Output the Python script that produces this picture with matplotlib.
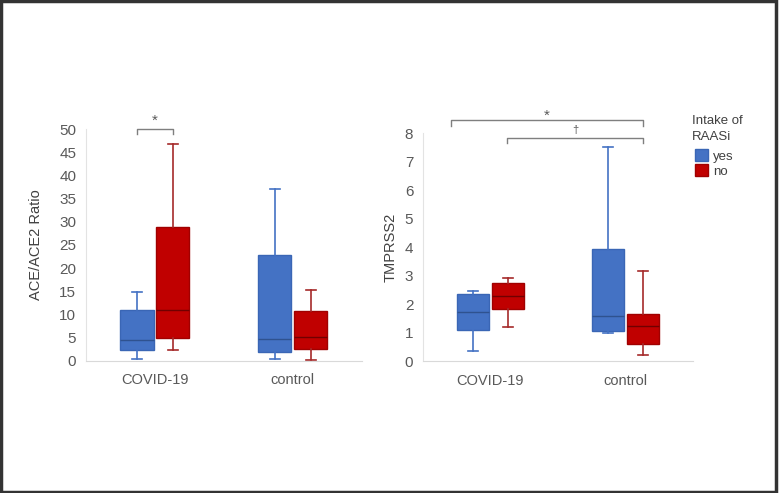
import matplotlib
matplotlib.use("Agg")
import matplotlib.pyplot as plt
from matplotlib.patches import Patch, Rectangle

plt.rcParams['font.family'] = ['Liberation Sans', 'DejaVu Sans']

groups = ['COVID-19', 'control']
intake = ['yes', 'no']

# ACE/ACE2 ratio: [min, q1, median, q3, max] per group, per intake
ace_yes = [[0.3, 2.2, 4.5, 11.0, 14.9], [0.3, 1.8, 4.6, 22.8, 37.1]]
ace_no = [[2.2, 4.8, 11.0, 28.8, 46.8], [0.1, 2.5, 5.2, 10.7, 15.3]]

# TMPRSS2
tmp_yes = [[0.36, 1.09, 1.73, 2.34, 2.46], [1.0, 1.05, 1.58, 3.92, 7.53]]
tmp_no = [[1.21, 1.83, 2.28, 2.75, 2.93], [0.21, 0.59, 1.24, 1.64, 3.17]]

blue = '#4472C4'
red = '#C00000'
tick_col = '#595959'


def stats(vals):
    lo, q1, med, q3, hi = vals
    return {'whislo': lo, 'q1': q1, 'med': med, 'q3': q3, 'whishi': hi, 'fliers': []}


def draw(ax, yes, no, ymax, step, ylabel, lpad):
    off = 0.13
    w = 0.24
    for data, sign, face, edge, med_c, wh_c in [
            (yes, -1, blue, '#3A66B5', '#2F528F', blue),
            (no, 1, red, '#A00000', '#700000', '#A52A2A')]:
        pos = [i + sign * off for i in range(len(groups))]
        ax.bxp([stats(v) for v in data], positions=pos, widths=w, patch_artist=True,
               showfliers=False,
               boxprops=dict(facecolor=face, edgecolor=edge, linewidth=1),
               medianprops=dict(color=med_c, linewidth=1),
               whiskerprops=dict(color=wh_c, linewidth=1.2),
               capprops=dict(color=wh_c, linewidth=1.2),
               capwidths=0.07)
    ax.set_xlim(-0.5, 1.5)
    ax.set_ylim(0, ymax)
    ax.set_yticks([step * k for k in range(int(ymax / step) + 1)])
    ax.set_xticks(range(len(groups)))
    ax.set_xticklabels(groups)
    ax.tick_params(length=0, labelsize=11, colors=tick_col, pad=7)
    ax.tick_params(axis='x', labelsize=10.5, pad=9)
    for s in ['top', 'right']:
        ax.spines[s].set_visible(False)
    ax.spines['left'].set_color('#E3E3E3')
    ax.spines['bottom'].set_color('#D9D9D9')
    ax.set_ylabel(ylabel, fontsize=10.5, color='#404040', labelpad=lpad)


fig = plt.figure(figsize=(7.79, 4.93), dpi=100)
ax1 = fig.add_axes([0.1104, 0.2684, 0.354, 0.4694])
ax2 = fig.add_axes([0.543, 0.2677, 0.3466, 0.4619])

draw(ax1, ace_yes, ace_no, 50, 5, 'ACE/ACE2 Ratio', 12)
draw(ax2, tmp_yes, tmp_no, 8, 1, 'TMPRSS2', 5)

br = '#7F7F7F'


def bracket(ax, x0, x1, y, h, label, ly, fs):
    ax.plot([x0, x0, x1, x1], [y - h, y, y, y - h], color=br, lw=1, clip_on=False)
    ax.text((x0 + x1) / 2, ly, label, ha='center', va='center', fontsize=fs, color='#595959')


bracket(ax1, -0.13, 0.13, 50.0, 1.1, '*', 51.9, 11)
bracket(ax2, -0.29, 1.13, 8.47, 0.23, '*', 8.62, 11)
bracket(ax2, 0.12, 1.13, 7.85, 0.19, '\u2020', 8.1, 8)

fig.text(692 / 779, 1 - 121 / 493, 'Intake of', fontsize=9.5, color='#404040', va='center')
fig.text(692 / 779, 1 - 137 / 493, 'RAASi', fontsize=9.5, color='#404040', va='center')
fig.legend(handles=[Patch(facecolor=blue, edgecolor='#3A66B5', label='yes'),
                    Patch(facecolor=red, edgecolor='#A00000', label='no')],
           loc='upper left', bbox_to_anchor=(690 / 779, 1 - 144 / 493), frameon=False,
           fontsize=9.5, handlelength=0.95, handleheight=0.95, handletextpad=0.4,
           labelspacing=0.15, borderaxespad=0, labelcolor='#404040')

fig.patches.append(Rectangle((0.0015, 0.003), 0.995, 0.994, transform=fig.transFigure,
                             fill=False, edgecolor='#333333', linewidth=2.5))

fig.savefig('out.png', dpi=100)
